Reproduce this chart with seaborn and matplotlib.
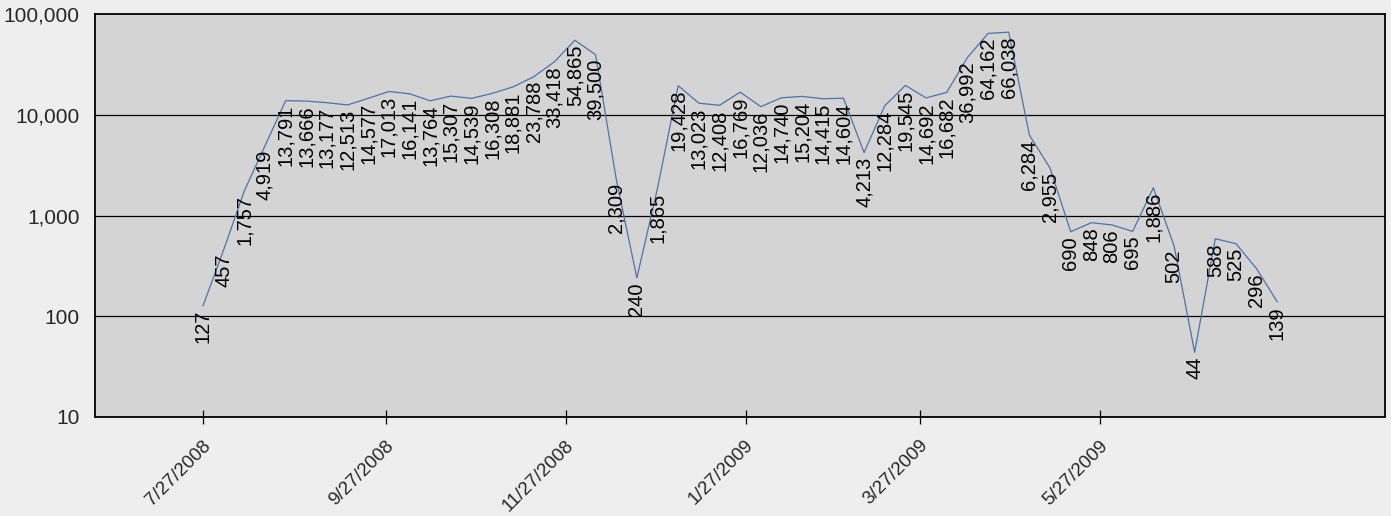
import pandas as pd
import numpy as np
import matplotlib
matplotlib.use("Agg")
import matplotlib.pyplot as plt
import matplotlib.transforms as mtransforms
import seaborn as sns


# weekly counts, starting 7/27/2008
start_date = "2008-07-27"
counts = [127, 457, 1757, 4919, 13791, 13666, 13177, 12513, 14577, 17013,
          16141, 13764, 15307, 14539, 16308, 18881, 23788, 33418, 54865, 39500,
          2309, 240, 1865, 19428, 13023, 12408, 16769, 12036, 14740, 15204,
          14415, 14604, 4213, 12284, 19545, 14692, 16682, 36992, 64162, 66038,
          6284, 2955, 690, 848, 806, 695, 1886, 502, 44, 588,
          525, 296, 139]

tick_dates = ["2008-07-27", "2008-09-27", "2008-11-27",
              "2009-01-27", "2009-03-27", "2009-05-27"]
tick_labels = ["7/27/2008", "9/27/2008", "11/27/2008",
               "1/27/2009", "3/27/2009", "5/27/2009"]
y_ticks = [10, 100, 1000, 10000, 100000]

df = pd.DataFrame({"date": pd.date_range(start_date, periods=len(counts), freq="7D"),
                   "count": counts})

sns.set_style("white")
plt.rcParams["font.family"] = ["Liberation Sans", "DejaVu Sans"]

fig, ax = plt.subplots(figsize=(13.91, 5.16), dpi=100)
fig.patch.set_facecolor("#eeeeee")
ax.set_facecolor("#d4d4d4")
plt.subplots_adjust(left=95 / 1391, right=1385 / 1391, top=1 - 14 / 516, bottom=1 - 417 / 516)

sns.lineplot(data=df, x="date", y="count", ax=ax, color="#4a74aa", linewidth=0.9)

ax.set_yscale("log")
ax.set_ylim(10, 100000)
ax.set_yticks(y_ticks)
ax.set_yticklabels([f"{t:,}" for t in y_ticks])
ax.yaxis.set_minor_locator(matplotlib.ticker.NullLocator())
for t in y_ticks[1:-1]:
    ax.axhline(t, color="black", linewidth=0.9, zorder=1)

t0 = pd.Timestamp(start_date)
ax.set_xlim(t0 - pd.Timedelta(days=36.6), t0 + pd.Timedelta(days=400.5))
ax.set_xticks(pd.to_datetime(tick_dates))
ax.set_xticklabels(tick_labels, rotation=45, ha="right", va="center",
                   rotation_mode="anchor")
ax.tick_params(axis="x", direction="inout", length=10, width=0.9, color="black",
               labelsize=13.5, pad=8, bottom=True)
ax.tick_params(axis="y", length=0, pad=11, labelsize=15)
ax.set_xlabel("")
ax.set_ylabel("")

# nudge the date labels down and to the right a little
shift = mtransforms.ScaledTranslation(5 / 100, -8 / 100, fig.dpi_scale_trans)
for lbl in ax.get_xticklabels():
    lbl.set_transform(lbl.get_transform() + shift)

for sp in ax.spines.values():
    sp.set_visible(True)
    sp.set_color("black")
    sp.set_linewidth(1.3)

for d, v in zip(df["date"], df["count"]):
    ax.annotate(f"{v:,}", (d, v), xytext=(0, -3), textcoords="offset points",
                rotation=90, ha="center", va="top", fontsize=14.5, color="black")

fig.savefig("out.png", dpi=100, facecolor=fig.get_facecolor())
